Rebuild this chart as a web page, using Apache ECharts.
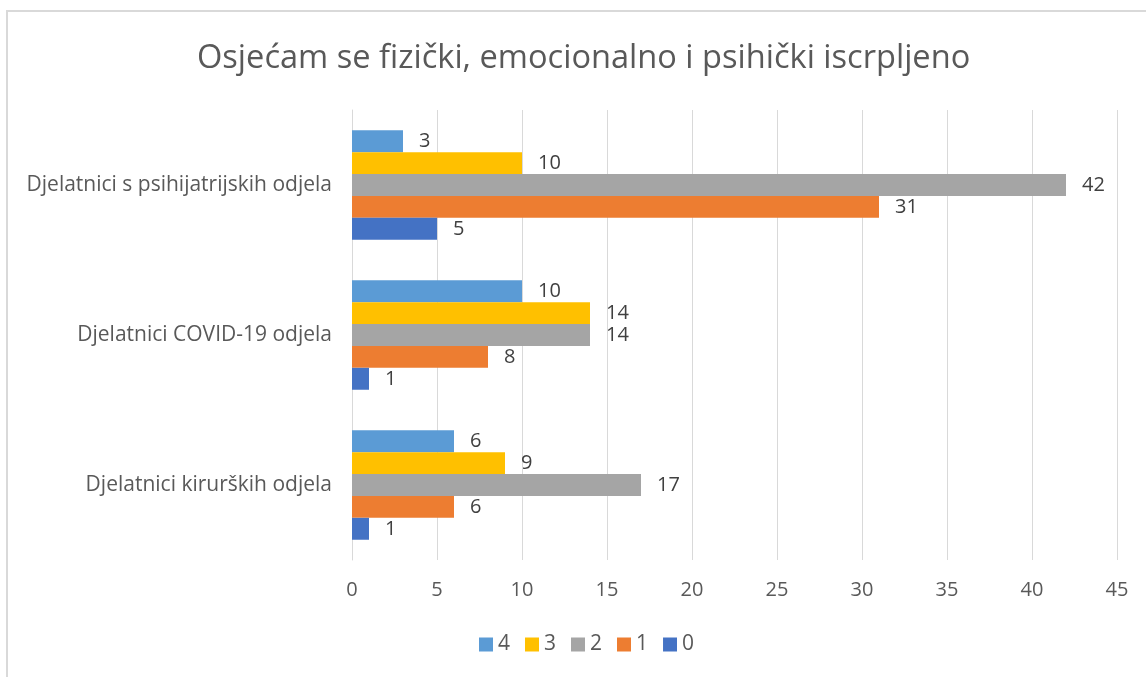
<!DOCTYPE html>
<html>
<head>
<meta charset="utf-8">
<script src="https://cdn.jsdelivr.net/npm/echarts@6/dist/echarts.min.js"></script>
<style>
  html, body { margin: 0; padding: 0; background: #fff; }
  #frame {
    position: absolute; left: 6px; top: 10px; width: 1200px; height: 700px;
    border-left: 2px solid #d9d9d9; border-top: 2px solid #d9d9d9;
  }
  #chart { position: absolute; left: 0; top: 0; width: 1146px; height: 677px; }
</style>
</head>
<body>
<div id="frame"></div>
<div id="chart"></div>
<script>
// kategorije (odozdo prema gore)
const categories = ['Djelatnici kirurških odjela', 'Djelatnici COVID-19 odjela', 'Djelatnici s psihijatrijskih odjela']
const seriesNames = ['4', '3', '2', '1', '0']
const values4 = [6, 10, 3]
const values3 = [9, 14, 10]
const values2 = [17, 14, 42]
const values1 = [6, 8, 31]
const values0 = [1, 1, 5]
const colors = ['#5B9BD5', '#FFC000', '#A5A5A5', '#ED7D31', '#4472C4']

const allValues = [values4, values3, values2, values1, values0]
const font = "'Open Sans', 'Noto Sans', sans-serif"

const chart = echarts.init(document.getElementById('chart'))

const series = seriesNames.map((name, i) => ({
  name: name,
  type: 'bar',
  data: allValues[i],
  barGap: '0%',
  barCategoryGap: '27%',
  itemStyle: { color: colors[i] },
  label: {
    show: true,
    position: 'right',
    distance: 16,
    color: '#404040',
    fontFamily: font,
    fontSize: 20
  }
}))

chart.setOption({
  animation: false,
  title: {
    text: 'Osjećam se fizički, emocionalno i psihički iscrpljeno',
    left: 192,
    top: 37,
    textStyle: { color: '#595959', fontFamily: font, fontSize: 32.6, fontWeight: 'normal' }
  },
  legend: {
    bottom: 17,
    left: 474,
    itemWidth: 14,
    itemHeight: 14,
    itemGap: 15,
    icon: 'rect',
    textStyle: { color: '#595959', fontFamily: font, fontSize: 21 },
    data: seriesNames
  },
  grid: { left: 352, right: 29, top: 110, bottom: 117 },
  xAxis: {
    type: 'value',
    min: 0,
    max: 45,
    interval: 5,
    axisLine: { show: false },
    axisTick: { show: false },
    axisLabel: { color: '#595959', fontFamily: font, fontSize: 20, margin: 20 },
    splitLine: { lineStyle: { color: '#d9d9d9', width: 1 } }
  },
  yAxis: {
    type: 'category',
    data: categories,
    axisLine: { show: true, lineStyle: { color: '#d9d9d9' } },
    axisTick: { show: false },
    axisLabel: { color: '#595959', fontFamily: font, fontSize: 21, margin: 20 }
  },
  series: series
})
</script>
</body>
</html>
